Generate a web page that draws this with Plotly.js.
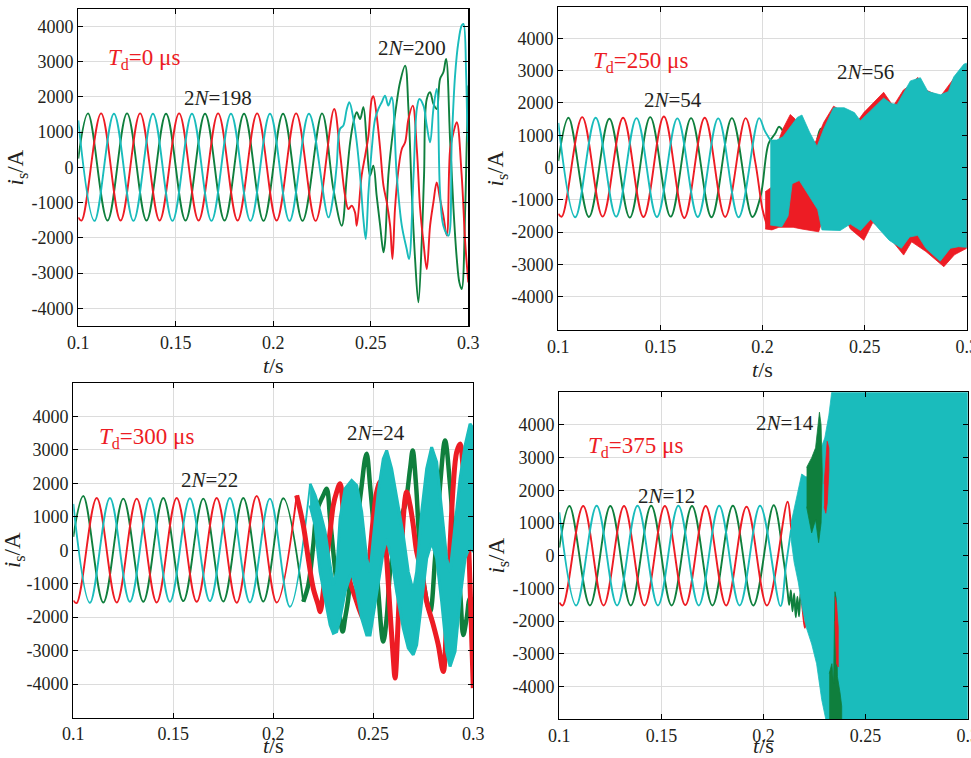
<!DOCTYPE html>
<html><head><meta charset="utf-8">
<script src="https://cdn.plot.ly/plotly-3.0.1.min.js"></script>
<style>body{margin:0;background:#fff}#chart{width:971px;height:758px}</style>
</head><body><div id="chart"></div>
<script>
// ---------- tick labels ----------
const xTickVals = [0.1, 0.15, 0.2, 0.25, 0.3];
const xTickText = ['0.1', '0.15', '0.2', '0.25', '0.3'];
const yTickVals = [-4000, -3000, -2000, -1000, 0, 1000, 2000, 3000, 4000];
const yTickText = ['-4000', '-3000', '-2000', '-1000', '0', '1000', '2000', '3000', '4000'];

// ---------- panel 1 : Td = 0 us ----------
const p1GreenT = [0.1,0.105,0.115,0.125,0.135,0.145,0.155,0.165,0.175,0.185,0.195,0.205,0.215,0.225,0.2308,0.2351,0.2377,0.2394,0.2411,0.2428,0.2445,0.2462,0.2479,0.2496,0.2513,0.2530,0.2548,0.2565,0.2573,0.2590,0.2607,0.2633,0.2650,0.2676,0.2693,0.2710,0.2727,0.2744,0.2761,0.2773,0.2787,0.2804,0.2821,0.2838,0.2855,0.2872,0.2886,0.2907,0.2924,0.2941,0.2954,0.2966,0.2984,0.2992,0.3];
const p1GreenV = [250,1530,-1510,1530,-1510,1520,-1510,1520,-1510,1520,-1520,1520,-1520,1530,-615,-1655,-236,709,1277,1560,1371,1702,709,-236,47,-804,-1655,-2411,-2128,-236,709,1844,2411,2884,1655,-709,-2600,-3830,-2128,-236,1938,2128,1797,1655,2506,2695,3073,709,-1182,-2600,-3262,-3451,-1182,709,2317];
const p1RedT = [0.1,0.1017,0.1117,0.1217,0.1317,0.1417,0.1517,0.1617,0.1717,0.1817,0.1917,0.2017,0.2117,0.2217,0.2312,0.2342,0.2368,0.2385,0.2402,0.2419,0.2428,0.2453,0.2471,0.2488,0.2505,0.2513,0.2530,0.2548,0.2565,0.2582,0.2599,0.2611,0.2624,0.2642,0.2659,0.2676,0.2693,0.2715,0.2736,0.2753,0.2770,0.2787,0.2804,0.2821,0.2838,0.2855,0.2872,0.2890,0.2907,0.2924,0.2941,0.2966,0.2984,0.3];
const p1RedV = [-1420,-1510,1530,-1510,1530,-1510,1530,-1510,1530,-1510,1530,-1510,1530,-1520,1655,426,-804,-1182,-1087,-1277,-1655,-236,331,898,1938,2014,1466,520,-520,-993,-1655,-2600,-1182,-47,520,709,1371,1749,520,-1182,-2128,-2884,-1655,-993,-426,-898,-1371,-1938,520,993,1277,-236,-2128,-3262];
const p1CyanT = [0.1,0.1083,0.1183,0.1283,0.1383,0.1483,0.1583,0.1683,0.1783,0.1883,0.1983,0.2083,0.2183,0.2283,0.2308,0.2325,0.2342,0.2359,0.2377,0.2390,0.2411,0.2428,0.2445,0.2462,0.2474,0.2488,0.2505,0.2522,0.2539,0.2556,0.2573,0.2590,0.2607,0.2633,0.2659,0.2684,0.2696,0.2719,0.2736,0.2749,0.2770,0.2787,0.2804,0.2821,0.2838,0.2855,0.2872,0.2898,0.2915,0.2932,0.2949,0.2966,0.2975,0.2989,0.2995,0.3];
const p1CyanV = [1330,-1520,1520,-1520,1520,-1520,1520,-1520,1520,-1520,1520,-1520,1520,-1420,-804,47,1087,1182,1655,1844,1371,709,-236,-1466,-2033,-709,520,1371,1655,1844,2033,1749,1986,-236,-1655,-2317,-2600,-236,1655,1938,1749,1182,709,1655,2222,-709,-1655,-1938,709,2600,3546,4019,4066,2600,1182,709];

// ---------- panel 2 : Td = 250 us ----------
const p2GreenT = [0.1,0.105,0.115,0.125,0.135,0.145,0.155,0.165,0.175,0.185,0.195,0.199,0.203,0.2062,0.208,0.2098,0.2099,0.2268,0.2285,0.2298];
const p2GreenV = [200,1540,-1530,1510,-1550,1560,-1520,1530,-1540,1530,-1530,-900,750,1050,1260,1150,null,880,1200,1050];
const p2RedT = [0.1,0.1017,0.1117,0.1217,0.1317,0.1417,0.1517,0.1617,0.1717,0.1817,0.1917,0.1965,0.2000,0.2020];
const p2RedV = [-1430,-1520,1560,-1520,1540,-1530,1580,-1560,1540,-1530,1530,150,-1300,-1750];
const p2CyanT = [0.1,0.1083,0.1183,0.1283,0.1383,0.1483,0.1583,0.1683,0.1783,0.1883,0.1983,0.2010,0.2038];
const p2CyanV = [1380,-1540,1540,-1520,1530,-1530,1520,-1530,1520,-1540,1530,1150,850];
const p2RedUpT = [0.2013,0.2046,0.2062,0.2100,0.2136,0.2160,0.2200,0.2260,0.2300,0.2348,0.2400,0.2450,0.2496,0.2560,0.2593,0.2640,0.2690,0.2724,0.2760,0.2800,0.2871,0.2936,0.3];
const p2RedUpV = [-750,-600,540,1200,1640,1500,700,800,1400,1900,1700,1300,1700,2100,2330,1900,2400,2550,2790,2400,2200,2750,3200];
const p2RedLoT = [0.2013,0.2046,0.2080,0.2120,0.2150,0.2190,0.2230,0.2275,0.2300,0.2381,0.2430,0.2496,0.2540,0.2600,0.2691,0.2730,0.2800,0.2888,0.2940,0.3];
const p2RedLoV = [-1900,-1930,-1850,-1850,-1850,-1900,-1950,-1990,-1500,-1250,-1900,-2250,-1700,-2000,-2710,-2300,-2600,-3070,-2700,-2500];
const p2CyanUpT = [0.2038,0.2070,0.2100,0.2136,0.2170,0.2193,0.2230,0.2267,0.2300,0.2348,0.2400,0.2450,0.2479,0.2528,0.2593,0.2630,0.2659,0.2690,0.2724,0.2773,0.2810,0.2871,0.2910,0.2936,0.2986,0.3];
const p2CyanUpV = [850,850,950,1250,1550,1625,1100,650,1200,1850,1850,1700,1450,1750,2150,1980,1950,2300,2680,2780,2350,2250,2350,2800,3200,3230];
const p2CyanLoT = [0.2038,0.2095,0.2125,0.2145,0.2180,0.2230,0.2270,0.2291,0.2380,0.2430,0.2480,0.2530,0.2570,0.2620,0.2680,0.2720,0.2760,0.2800,0.2870,0.2920,0.2960,0.3];
const p2CyanLoV = [-1780,-1830,-1500,-500,-400,-900,-1300,-1930,-1950,-1750,-1950,-1600,-1900,-2250,-2500,-2150,-2100,-2500,-2900,-2500,-2450,-2470];

// ---------- panel 3 : Td = 300 us ----------
const p3GreenT = [0.1,0.105,0.115,0.125,0.135,0.145,0.155,0.165,0.175,0.185,0.195,0.205,0.215];
const p3GreenV = [400,1620,-1560,1540,-1540,1560,-1520,1540,-1530,1560,-1530,1550,-1540];
const p3GreenUnT = [0.215,0.2175,0.2200,0.2217,0.2234,0.2250,0.2267,0.2284,0.2300,0.2317,0.2334,0.2347,0.2359,0.2375,0.2392,0.2417,0.2442,0.2459,0.2467,0.2484,0.2509,0.2525,0.2550,0.2567,0.2584,0.2609,0.2634,0.2659,0.2684,0.2697,0.2714,0.2734,0.2759,0.2784,0.2809,0.2834,0.2859,0.2884,0.2909,0.2934,0.2950,0.2967,0.2984,0.3];
const p3GreenUnV = [-1540,-1042,149,1141,1438,1637,1835,942,-50,-1042,-2034,-2430,-2034,-1438,-248,744,1934,2728,2877,1934,149,-1240,-2728,-2034,-645,248,942,1339,2430,2976,1934,-50,-1240,-1835,-248,1934,3274,1934,-50,-1240,-2530,-2034,-1438,-1538];
const p3RedT = [0.1,0.1017,0.1117,0.1217,0.1317,0.1417,0.1517,0.1617,0.1717,0.1817,0.1917,0.2017,0.2117];
const p3RedV = [-1500,-1580,1560,-1560,1540,-1560,1560,-1540,1560,-1570,1620,-1560,1637];
const p3RedUnT = [0.2117,0.2150,0.2175,0.2200,0.2225,0.2234,0.2250,0.2267,0.2284,0.2300,0.2317,0.2334,0.2350,0.2367,0.2384,0.2400,0.2417,0.2434,0.2450,0.2467,0.2484,0.2500,0.2517,0.2534,0.2550,0.2567,0.2584,0.2600,0.2609,0.2625,0.2642,0.2659,0.2667,0.2684,0.2700,0.2717,0.2742,0.2767,0.2800,0.2825,0.2850,0.2867,0.2884,0.2900,0.2917,0.2934,0.2950,0.2967,0.2984,0.3];
const p3RedUnV = [1637,744,-248,-1141,-1637,-1835,-1240,-248,546,1339,1736,1984,1141,-248,-942,-1240,-1538,-1835,-2034,-1042,-50,942,1736,2034,1141,-248,-1835,-3224,-3819,-2034,149,1538,1736,1339,744,-50,-645,-1538,-2232,-2827,-3621,-2034,149,1934,2926,3174,2430,1438,-1042,-4117];
const p3CyanT = [0.1,0.1083,0.1183,0.1283,0.1383,0.1483,0.1583,0.1683,0.1783,0.1883,0.1983,0.2083,0.2184];
const p3CyanV = [1380,-1570,1560,-1540,1560,-1540,1550,-1520,1560,-1560,1540,-1690,1984];
const p3CyanBandT = [0.2184,0.2209,0.2234,0.2259,0.2284,0.2300,0.2317,0.2334,0.2359,0.2392,0.2417,0.2442,0.2467,0.2484,0.2500,0.2525,0.2550,0.2567,0.2592,0.2617,0.2650,0.2675,0.2700,0.2717,0.2742,0.2767,0.2792,0.2817,0.2842,0.2867,0.2884,0.2909,0.2934,0.2959,0.2984,0.3];
const p3CyanBandUp = [1984,1637,1141,546,-446,-1042,-645,942,1835,2083,1934,1141,-248,-645,347,1736,2728,2976,2430,1538,446,-645,-1240,-645,1141,2430,3075,2629,1141,-248,-645,744,2133,3125,3770,3621];
const p3CyanBandLo = [1339,744,-645,-1438,-2232,-2480,-2430,-2034,-1240,-645,-1240,-2034,-2530,-2530,-2034,-1042,-50,347,-248,-1240,-2331,-2926,-3125,-2827,-1538,-248,248,-248,-1538,-3026,-3472,-3026,-1438,-248,149,-50];

// ---------- panel 4 : Td = 375 us ----------
const p4GreenT = [0.1,0.105,0.115,0.125,0.135,0.145,0.155,0.165,0.175,0.185,0.195,0.205,0.2100,0.2118,0.2126,0.2134,0.2142,0.2150,0.2158,0.2166,0.2174,0.2182,0.2190];
const p4GreenV = [250,1520,-1520,1520,-1520,1530,-1520,1520,-1520,1530,-1520,1544,-200,-1100,-1500,-1050,-1700,-1150,-1880,-1250,-1850,-1100,-1500];
const p4RedT = [0.1,0.1017,0.1117,0.1217,0.1317,0.1417,0.1517,0.1617,0.1717,0.1817,0.1917,0.2017,0.2118,0.2135,0.2150,0.2165,0.2180,0.2195,0.2203,0.2212];
const p4RedV = [-1430,-1520,1520,-1520,1520,-1520,1520,-1510,1520,-1520,1500,-1520,1650,900,200,-300,-900,-1850,-2200,-1900];
const p4CyanT = [0.1,0.1083,0.1183,0.1283,0.1383,0.1483,0.1583,0.1683,0.1783,0.1883,0.1983,0.2083,0.2110,0.2135];
const p4CyanV = [1330,-1520,1530,-1520,1530,-1520,1530,-1520,1530,-1520,1530,-1540,-300,800];
const p4CyanUpT = [0.2135,0.2160,0.2187,0.2210,0.2240,0.2270,0.2300,0.2320,0.2334,0.3];
const p4CyanUpV = [1000,1700,2500,2400,2700,3100,3600,4300,5000,5000];
const p4CyanLoT = [0.2135,0.2150,0.2170,0.2190,0.2210,0.2236,0.2260,0.2285,0.2305,0.3];
const p4CyanLoV = [500,-200,-800,-1600,-2200,-2700,-3300,-4400,-5000,-5000];
const p4GreenPkUpT = [0.2211,0.2236,0.2255,0.2267,0.2274,0.2282,0.2288];
const p4GreenPkUpV = [2700,3000,3300,4100,4390,4000,3000];
const p4GreenPkLoT = [0.2211,0.2236,0.2255,0.2270,0.2282,0.2288];
const p4GreenPkLoV = [1500,700,1100,400,1000,2500];
const p4RedPkUpT = [0.2297,0.2305,0.2312,0.2320];
const p4RedPkUpV = [2200,3000,3500,3300];
const p4RedPkLoT = [0.2297,0.2305,0.2312,0.2320];
const p4RedPkLoV = [1500,1300,1600,2600];
const p4GreenLowUpT = [0.2322,0.2335,0.2343,0.2350,0.2356,0.2362,0.2375,0.2383];
const p4GreenLowUpV = [-3600,-3300,-3900,-1100,-1300,-3700,-4200,-4600];
const p4GreenLowLoT = [0.2322,0.2383];
const p4GreenLowLoV = [-5000,-5000];
const p4RedLowUpT = [0.2350,0.2358,0.2366];
const p4RedLowUpV = [-1250,-1500,-2200];
const p4RedLowLoT = [0.2350,0.2358,0.2366];
const p4RedLowLoV = [-2000,-3300,-3400];

// ---------- styling ----------
const RED = '#ED1C24', GREEN = '#0F7F3D', CYAN = '#1ABCBC';
const FONT = '"Liberation Serif", "Times New Roman", "DejaVu Serif", serif';

function ax(n) { return n > 1 ? String(n) : ''; }
function line(t, v, color, n, w) {
  return { type: 'scatter', mode: 'lines', x: t, y: v, xaxis: 'x' + ax(n), yaxis: 'y' + ax(n),
    line: { color: color, width: w || 1.9, shape: 'spline', smoothing: 1 },
    hoverinfo: 'skip', showlegend: false };
}
function band(tu, vu, tl, vl, color, n, lw) {
  return { type: 'scatter', mode: 'lines', x: tu.concat(tl.slice().reverse()), y: vu.concat(vl.slice().reverse()),
    xaxis: 'x' + ax(n), yaxis: 'y' + ax(n), fill: 'toself', fillcolor: color,
    line: { color: color, width: lw || 0.8 }, hoverinfo: 'skip', showlegend: false };
}

const data = [
  line(p1GreenT, p1GreenV, GREEN, 1), line(p1RedT, p1RedV, RED, 1), line(p1CyanT, p1CyanV, CYAN, 1),

  line(p2GreenT, p2GreenV, GREEN, 2), line(p2RedT, p2RedV, RED, 2), line(p2CyanT, p2CyanV, CYAN, 2),
  band(p2RedUpT, p2RedUpV, p2RedLoT, p2RedLoV, RED, 2),
  band(p2CyanUpT, p2CyanUpV, p2CyanLoT, p2CyanLoV, CYAN, 2),

  line(p3GreenT, p3GreenV, GREEN, 3), line(p3RedT, p3RedV, RED, 3), line(p3CyanT, p3CyanV, CYAN, 3),
  line(p3GreenUnT, p3GreenUnV, GREEN, 3, 4.5), line(p3RedUnT, p3RedUnV, RED, 3, 5),
  band(p3CyanBandT, p3CyanBandUp, p3CyanBandT, p3CyanBandLo, CYAN, 3, 3),

  line(p4GreenT, p4GreenV, GREEN, 4), line(p4RedT, p4RedV, RED, 4), line(p4CyanT, p4CyanV, CYAN, 4),
  band(p4CyanUpT, p4CyanUpV, p4CyanLoT, p4CyanLoV, CYAN, 4),
  band(p4GreenPkUpT, p4GreenPkUpV, p4GreenPkLoT, p4GreenPkLoV, GREEN, 4),
  band(p4RedPkUpT, p4RedPkUpV, p4RedPkLoT, p4RedPkLoV, RED, 4),
  band(p4GreenLowUpT, p4GreenLowUpV, p4GreenLowLoT, p4GreenLowLoV, GREEN, 4),
  band(p4RedLowUpT, p4RedLowUpV, p4RedLowLoT, p4RedLowLoV, RED, 4)
];

function xAxis(dom, anchor, so) {
  return { domain: dom, anchor: anchor, range: [0.1, 0.3], tickmode: 'array', tickvals: xTickVals, ticktext: xTickText,
    ticks: 'inside', ticklen: 5, tickwidth: 1, tickcolor: '#000', showline: true, linecolor: '#000', linewidth: 1.2,
    mirror: 'ticks', showgrid: true, gridcolor: '#dcdcdc', gridwidth: 1, zeroline: false, ticklabeloverflow: 'allow',
    tickfont: { family: FONT, size: 18, color: '#231f20' },
    title: { text: '<i>t</i>/s', font: { family: FONT, size: 22, color: '#231f20' }, standoff: so } };
}
function yAxis(dom, anchor, rng) {
  return { domain: dom, anchor: anchor, range: rng, tickmode: 'array', tickvals: yTickVals, ticktext: yTickText,
    ticks: 'inside', ticklen: 5, tickwidth: 1, tickcolor: '#000', showline: true, linecolor: '#000', linewidth: 1.2,
    mirror: 'ticks', showgrid: true, gridcolor: '#dcdcdc', gridwidth: 1, zeroline: true, zerolinecolor: '#dcdcdc', zerolinewidth: 1,
    tickfont: { family: FONT, size: 18, color: '#231f20' },
    title: { text: '<i>i</i><sub>s</sub>/A', font: { family: FONT, size: 23, color: '#231f20' }, standoff: 1 } };
}

function tdNote(x, y, xr, yr, txt) {
  return { x: x, y: y, xref: xr, yref: yr, text: txt, showarrow: false,
    font: { family: FONT, size: 23, color: RED } };
}
function nNote(x, y, xr, yr, txt) {
  return { x: x, y: y, xref: xr, yref: yr, text: txt, showarrow: false,
    font: { family: FONT, size: 21, color: '#231f20' } };
}

const layout = {
  width: 971, height: 758, margin: { l: 0, r: 0, t: 0, b: 0 },
  paper_bgcolor: '#fff', plot_bgcolor: '#fff', showlegend: false,
  font: { family: FONT },
  xaxis: xAxis([0.0806, 0.4823], 'y', 0),
  yaxis: yAxis([0.5699, 0.9877], 'x', [-4500, 4480]),
  xaxis2: xAxis([0.5750, 0.9956], 'y2', 0),
  yaxis2: yAxis([0.5646, 0.9904], 'x2', [-5030, 4960]),
  xaxis3: xAxis([0.0755, 0.4874], 'y3', 2),
  yaxis3: yAxis([0.0532, 0.4951], 'x3', [-5000, 5000]),
  xaxis4: xAxis([0.5760, 0.9966], 'y4', 2),
  yaxis4: yAxis([0.0511, 0.4825], 'x4', [-5000, 5000]),
  annotations: [
    tdNote(0.1339, 3072, 'x', 'y', '<i>T</i><sub>d</sub>=0 μs'),
    nNote(0.1714, 1966, 'x', 'y', '2<i>N</i>=198'),
    nNote(0.2710, 3385, 'x', 'y', '2<i>N</i>=200'),
    tdNote(0.1400, 3266, 'x2', 'y2', '<i>T</i><sub>d</sub>=250 μs'),
    nNote(0.1562, 2090, 'x2', 'y2', '2<i>N</i>=54'),
    nNote(0.2503, 2957, 'x2', 'y2', '2<i>N</i>=56'),
    tdNote(0.1364, 3363, 'x3', 'y3', '<i>T</i><sub>d</sub>=300 μs'),
    nNote(0.1679, 2083, 'x3', 'y3', '2<i>N</i>=22'),
    nNote(0.2514, 3512, 'x3', 'y3', '2<i>N</i>=24'),
    tdNote(0.1371, 3314, 'x4', 'y4', '<i>T</i><sub>d</sub>=375 μs'),
    nNote(0.1527, 1820, 'x4', 'y4', '2<i>N</i>=12'),
    nNote(0.2103, 4046, 'x4', 'y4', '2<i>N</i>=14')
  ]
};

Plotly.newPlot('chart', data, layout, { displayModeBar: false, staticPlot: true });
</script></body></html>
